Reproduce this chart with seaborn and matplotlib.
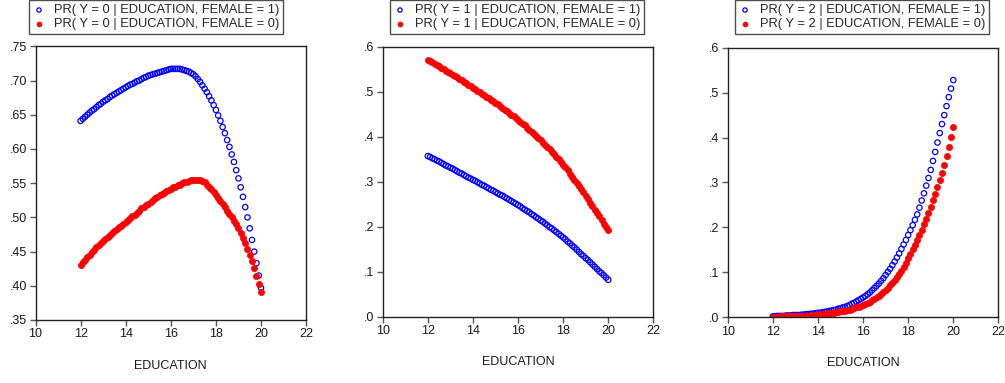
import numpy as np
import pandas as pd
import matplotlib
matplotlib.use("Agg")
import matplotlib.pyplot as plt
from matplotlib.ticker import FuncFormatter, MultipleLocator
import seaborn as sns

# education values (x axis, shared by every panel)
education = [12.0, 12.1, 12.2, 12.3, 12.4, 12.5, 12.6, 12.7, 12.8, 12.9,
             13.0, 13.1, 13.2, 13.3, 13.4, 13.5, 13.6, 13.7, 13.8, 13.9,
             14.0, 14.1, 14.2, 14.3, 14.4, 14.5, 14.6, 14.7, 14.8, 14.9,
             15.0, 15.1, 15.2, 15.3, 15.4, 15.5, 15.6, 15.7, 15.8, 15.9,
             16.0, 16.1, 16.2, 16.3, 16.4, 16.5, 16.6, 16.7, 16.8, 16.9,
             17.0, 17.1, 17.2, 17.3, 17.4, 17.5, 17.6, 17.7, 17.8, 17.9,
             18.0, 18.1, 18.2, 18.3, 18.4, 18.5, 18.6, 18.7, 18.8, 18.9,
             19.0, 19.1, 19.2, 19.3, 19.4, 19.5, 19.6, 19.7, 19.8, 19.9, 20.0]

# PR(Y = 0 | education, female)
p0_female1 = [.641, .644, .647, .650, .653, .656, .658, .661, .664, .666,
              .669, .671, .673, .676, .678, .680, .682, .684, .686, .688,
              .690, .692, .694, .695, .697, .699, .700, .702, .704, .705,
              .707, .708, .709, .710, .711, .712, .713, .714, .715, .716,
              .717, .717, .717, .717, .717, .716, .715, .714, .713, .711,
              .709, .706, .702, .698, .693, .688, .683, .677, .671, .664,
              .657, .649, .641, .632, .623, .613, .603, .592, .581, .569,
              .557, .544, .530, .515, .500, .484, .467, .450, .433, .415, .397]
p0_female0 = [.431, .435, .438, .442, .445, .449, .452, .456, .459, .462,
              .465, .468, .471, .474, .477, .480, .483, .486, .488, .491,
              .493, .496, .499, .502, .504, .507, .510, .513, .515, .518,
              .520, .523, .525, .528, .530, .532, .534, .536, .538, .540,
              .542, .544, .545, .547, .548, .550, .551, .552, .553, .554,
              .554, .555, .555, .554, .553, .551, .548, .545, .541, .537,
              .533, .529, .524, .520, .515, .510, .505, .500, .495, .490,
              .484, .477, .470, .462, .454, .445, .436, .426, .415, .403, .391]

# PR(Y = 1 | education, female)
p1_female1 = [.357, .355, .352, .350, .347, .345, .342, .339, .336, .334,
              .331, .329, .326, .323, .320, .318, .315, .312, .309, .307,
              .304, .302, .299, .296, .293, .291, .288, .285, .282, .280,
              .277, .274, .271, .269, .266, .263, .260, .257, .254, .251,
              .248, .245, .241, .238, .235, .232, .228, .225, .221, .218,
              .214, .211, .207, .203, .199, .196, .192, .188, .184, .180,
              .176, .172, .167, .163, .158, .154, .149, .144, .139, .135,
              .130, .126, .121, .116, .111, .106, .101, .097, .092, .087, .082]
p1_female0 = [.571, .568, .565, .562, .559, .556, .553, .550, .547, .544,
              .541, .538, .535, .532, .528, .525, .522, .519, .515, .512,
              .509, .506, .502, .499, .496, .492, .489, .486, .482, .479,
              .475, .472, .468, .464, .460, .457, .453, .449, .445, .441,
              .437, .433, .429, .425, .420, .416, .411, .407, .402, .397,
              .392, .387, .382, .377, .372, .367, .361, .356, .350, .344,
              .338, .332, .325, .318, .311, .304, .297, .290, .283, .276,
              .268, .261, .253, .246, .238, .231, .223, .215, .207, .200, .192]

# PR(Y = 2 | education, female)
p2_female1 = [.002, .002, .003, .003, .003, .003, .004, .004, .004, .005,
              .005, .005, .005, .006, .006, .007, .007, .008, .008, .009,
              .010, .010, .011, .012, .013, .014, .015, .016, .017, .019,
              .020, .022, .023, .025, .027, .030, .032, .035, .038, .041,
              .044, .047, .051, .055, .060, .065, .070, .075, .081, .087,
              .094, .101, .108, .116, .124, .133, .142, .152, .162, .172,
              .183, .194, .205, .217, .229, .244, .260, .276, .293, .310,
              .328, .348, .368, .389, .410, .430, .450, .470, .490, .509, .528]
p2_female0 = [.001, .001, .001, .002, .002, .002, .002, .002, .002, .003,
              .003, .003, .003, .004, .004, .004, .004, .005, .005, .006,
              .006, .007, .007, .008, .008, .009, .009, .010, .011, .012,
              .013, .014, .015, .016, .017, .019, .020, .022, .023, .025,
              .027, .030, .032, .035, .038, .041, .045, .048, .052, .056,
              .061, .066, .071, .076, .082, .089, .096, .104, .112, .121,
              .131, .141, .151, .161, .172, .183, .195, .207, .219, .232,
              .246, .260, .274, .289, .305, .322, .339, .359, .380, .402, .424]

panels = [
    (0, p0_female1, p0_female0, (0.35, 0.75), 0.05, 2),
    (1, p1_female1, p1_female0, (0.0, 0.6), 0.1, 1),
    (2, p2_female1, p2_female0, (0.0, 0.6), 0.1, 1),
]

sns.set_style("white")
plt.rcParams['font.family'] = ['Liberation Sans', 'DejaVu Sans']

W, H = 1005, 383
fig = plt.figure(figsize=(W / 100, H / 100), dpi=100)

# axes boxes in pixels: left, top, right, bottom
boxes = [(35.5, 46.3, 306.1, 320.0),
         (382.7, 46.7, 653.4, 316.7),
         (727.7, 47.7, 998.4, 317.3)]
legend_left = [29, 390, 735]

for (y_val, s_f1, s_f0, ylim, ystep, dec), box, lx in zip(panels, boxes, legend_left):
    l, t, r, b = box
    ax = fig.add_axes([l / W, (H - b) / H, (r - l) / W, (b - t) / H])
    sns.scatterplot(x=education, y=s_f1, ax=ax, marker='o', s=15,
                    facecolors='none', edgecolors='#0000ff', linewidth=0.9,
                    label=f"PR( Y = {y_val} | EDUCATION, FEMALE = 1)")
    sns.scatterplot(x=education, y=s_f0, ax=ax, marker='o', s=20,
                    color='#ff0000', edgecolor='#ff0000', linewidth=0.5,
                    label=f"PR( Y = {y_val} | EDUCATION, FEMALE = 0)")
    ax.set_xlim(10, 22)
    ax.set_ylim(*ylim)
    ax.xaxis.set_major_locator(MultipleLocator(2))
    ax.yaxis.set_major_locator(MultipleLocator(ystep))
    ax.yaxis.set_major_formatter(FuncFormatter(
        lambda v, pos, d=dec: f"{v:.{d}f}".lstrip('0') if v >= 0 else f"{v:.{d}f}"))
    ax.tick_params(axis='both', which='major', direction='out', length=4, width=1,
                   color='#555555', labelsize=9, labelcolor='#1a1a1a',
                   bottom=True, left=True, top=False, right=False, pad=2)
    for sp in ax.spines.values():
        sp.set_color('#222222')
        sp.set_linewidth(1.0)
    ax.set_xlabel("EDUCATION", fontsize=9, color='#1a1a1a', labelpad=14)
    ax.set_ylabel("")
    ax.legend(loc='upper left', bbox_to_anchor=(lx / W, 1 - 0.5 / H),
              bbox_transform=fig.transFigure, frameon=True, fancybox=False,
              edgecolor='#222222', fontsize=9.3, borderpad=0.3,
              handletextpad=0.65, labelspacing=0.15, handlelength=0.95,
              borderaxespad=0, markerscale=0.8)
    ax.get_legend().get_frame().set_linewidth(1.0)

fig.savefig("out.png", dpi=100)
